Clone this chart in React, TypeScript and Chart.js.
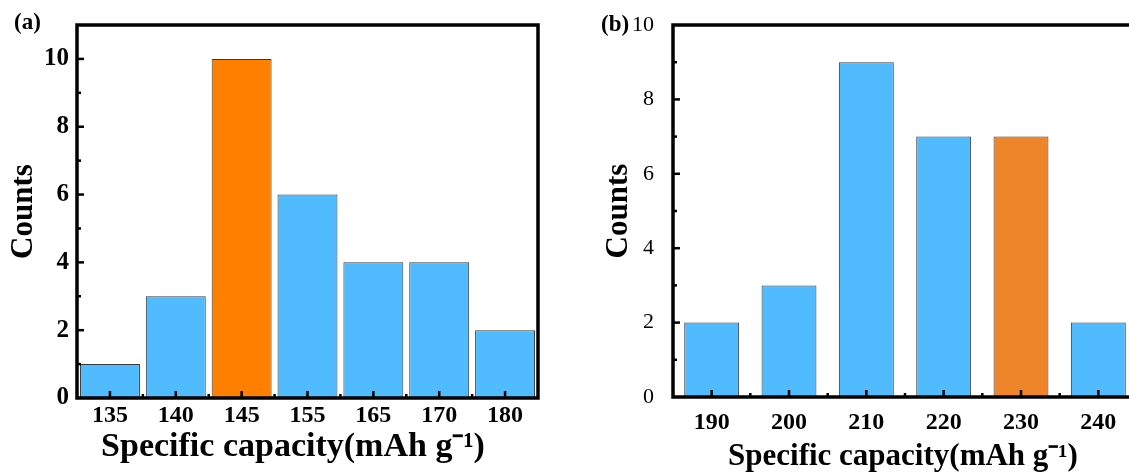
import React, { useEffect, useRef } from "react";
import { Chart, registerables } from "chart.js";
Chart.register(...registerables);

const categoriesA = ["135", "140", "145", "155", "165", "170", "180"];
const countsA = [1, 3, 10, 6, 4, 4, 2];
const highlightA = "145";
const categoriesB = ["190", "200", "210", "220", "230", "240"];
const countsB = [2, 3, 9, 7, 7, 2];
const highlightB = "230";
const yMaxA = 11;
const yMaxB = 10;
const xTitle = "Specific capacity(mAh g\u207B\u00B9)";
const yTitle = "Counts";

const BLUE = "#50BBFF";
const FONT = "'Liberation Serif', 'Times New Roman', serif";

const framePlugin = {
  id: "frame",
  afterDatasetsDraw(chart: any, _args: any, opts: any) {
    const { ctx, chartArea, scales } = chart;
    const { left, right, top, bottom } = chartArea;
    const x = scales.x;
    const y = scales.y;
    ctx.save();
    ctx.strokeStyle = "#000";
    ctx.lineWidth = 3.5;
    ctx.strokeRect(left, top, right - left, bottom - top);
    ctx.lineWidth = 2.5;
    for (let v = 1; v < y.max; v++) {
      const py = y.getPixelForValue(v);
      const len = v % 2 === 0 ? 7 : 4;
      ctx.beginPath();
      ctx.moveTo(left, py);
      ctx.lineTo(left + len, py);
      ctx.stroke();
    }
    const n = x.ticks.length;
    for (let i = 0; i < n; i++) {
      const px = x.getPixelForValue(i);
      ctx.beginPath();
      ctx.moveTo(px, bottom);
      ctx.lineTo(px, bottom - 7);
      ctx.stroke();
    }
    for (let i = 0; i < n - 1; i++) {
      const px = (x.getPixelForValue(i) + x.getPixelForValue(i + 1)) / 2;
      ctx.beginPath();
      ctx.moveTo(px, bottom);
      ctx.lineTo(px, bottom - 4);
      ctx.stroke();
    }
    ctx.fillStyle = "#000";
    ctx.font = `bold 23px ${FONT}`;
    ctx.textBaseline = "middle";
    ctx.textAlign = "left";
    ctx.fillText(opts.label, opts.lx, opts.ly);
    ctx.font = `bold ${opts.titleSize}px ${FONT}`;
    ctx.textAlign = "center";
    ctx.fillText(xTitle, opts.tx, opts.ty);
    ctx.restore();
  },
};

function makeConfig(p: any) {
  return {
    type: "bar",
    data: {
      labels: p.categories,
      datasets: [
        {
          data: p.counts,
          backgroundColor: p.categories.map((c: string) => (c === p.highlight ? p.orange : BLUE)),
          borderColor: "#3a3a3a",
          borderWidth: 1,
          barPercentage: p.barPct,
          categoryPercentage: 1,
        },
      ],
    },
    options: {
      animation: false,
      responsive: false,
      maintainAspectRatio: false,
      layout: { padding: { top: 25, right: p.padRight, left: 0, bottom: 0 } },
      plugins: {
        legend: { display: false },
        tooltip: { enabled: false },
        frame: { label: p.panel, lx: p.lx, ly: p.ly, tx: p.tx, ty: p.ty, titleSize: p.xTitleSize },
      },
      scales: {
        x: {
          grid: { display: false },
          border: { display: false },
          ticks: {
            color: "#000",
            padding: p.xTickPad,
            font: { family: FONT, size: 24, weight: "bold", lineHeight: 1 },
          },
          title: { display: false },
          afterFit: (s: any) => {
            s.height = p.xHeight;
          },
        },
        y: {
          min: 0,
          max: p.yMax,
          grid: { display: false },
          border: { display: false },
          ticks: {
            stepSize: 2,
            includeBounds: false,
            color: "#000",
            padding: p.yTickPad,
            font: { family: FONT, size: p.yTickSize, weight: p.yBold ? "bold" : "normal" },
          },
          title: {
            display: true,
            text: yTitle,
            color: "#000",
            font: { family: FONT, size: 31, weight: "bold", lineHeight: 1 },
            padding: { top: p.yTitlePad, bottom: 0 },
          },
          afterFit: (s: any) => {
            s.width = p.yWidth;
          },
        },
      },
    },
    plugins: [framePlugin],
  } as any;
}

function Panel(props: any) {
  const ref = useRef<HTMLCanvasElement | null>(null);
  useEffect(() => {
    if (!ref.current) return;
    const chart = new Chart(ref.current, makeConfig(props.cfg));
    return () => chart.destroy();
  }, []);
  return (
    <canvas
      ref={ref}
      width={props.w}
      height={472}
      style={{ position: "absolute", left: props.left, top: 0, width: props.w, height: 472 }}
    />
  );
}

export default function App() {
  const cfgA = {
    categories: categoriesA,
    counts: countsA,
    highlight: highlightA,
    orange: "#FF8000",
    barPct: 0.91,
    padRight: 22,
    yMax: yMaxA,
    xTickPad: -2,
    xTitleSize: 34,
    tx: 293,
    ty: 447,
    xHeight: 74,
    yTickPad: 0,
    yTickSize: 25,
    yTitlePad: 8,
    yWidth: 77,
    yBold: true,
    panel: "(a)",
    lx: 14,
    ly: 23,
  };
  const cfgB = {
    categories: categoriesB,
    counts: countsB,
    highlight: highlightB,
    orange: "#EF852B",
    barPct: 0.71,
    padRight: 8,
    yMax: yMaxB,
    xTickPad: 6,
    xTitleSize: 31,
    tx: 328,
    ty: 457,
    xHeight: 75,
    yTickPad: 11,
    yTickSize: 22,
    yTitlePad: 28,
    yWidth: 98,
    yBold: false,
    panel: "(b)",
    lx: 26,
    ly: 25,
  };
  return (
    <div style={{ position: "absolute", left: 0, top: 0, width: 1129, height: 472, overflow: "hidden", background: "#fff" }}>
      <Panel cfg={cfgA} left={0} w={560} />
      <Panel cfg={cfgB} left={575} w={570} />
    </div>
  );
}
